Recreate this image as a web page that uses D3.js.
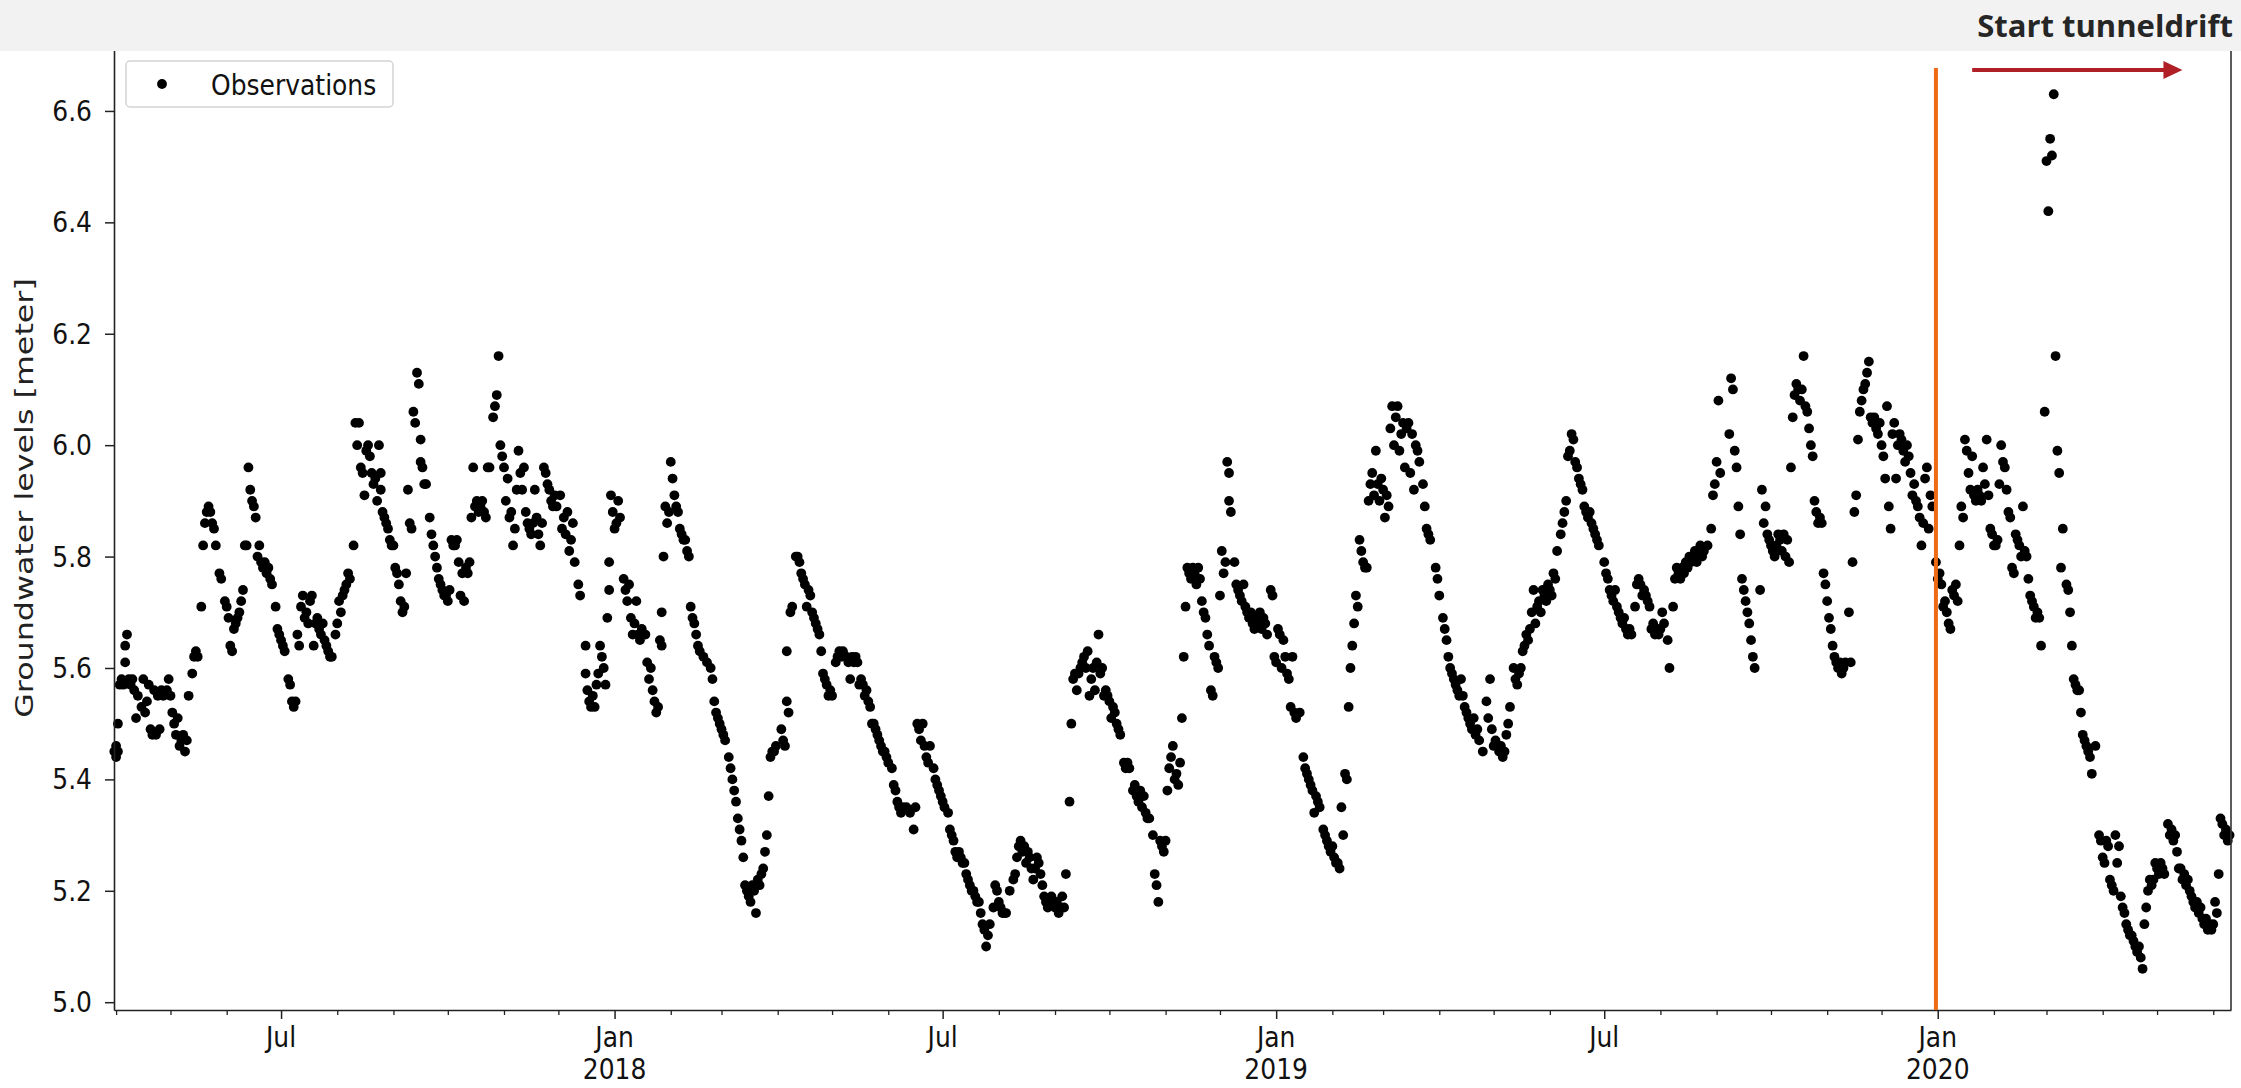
<!DOCTYPE html>
<html>
<head>
<meta charset="utf-8">
<script src="https://cdn.jsdelivr.net/npm/d3@7"></script>
<style>
  html, body { margin: 0; padding: 0; background: #fff; }
  svg { display: block; }
</style>
</head>
<body>
<div id="chart"></div>
<script>
// observations: [days after dayZero, groundwater level in meter]
const dayZero = new Date(2017, 3, 1);

const obs2017 = [
  [-1,5.45],[0,5.44],[0,5.46],[1,5.45],[1,5.50],[2,5.57],[3,5.58],[4,5.57],[5,5.61],[5,5.64],[6,5.66],[7,5.58],[8,5.57],[9,5.58],[10,5.56],
  [11,5.51],[12,5.55],[14,5.53],[15,5.58],[16,5.52],[17,5.54],[18,5.57],[19,5.49],[20,5.48],[21,5.56],[22,5.48],[23,5.55],[24,5.49],[25,5.56],
  [26,5.55],[28,5.56],[29,5.58],[30,5.55],[31,5.52],[32,5.50],[33,5.48],[34,5.51],[35,5.46],[36,5.47],[37,5.48],[38,5.45],[39,5.47],[40,5.55],
  [42,5.59],[43,5.62],[44,5.63],[45,5.62],[47,5.71],[48,5.82],[49,5.86],[50,5.88],[51,5.89],[52,5.88],[53,5.86],[54,5.85],[55,5.82],[57,5.77],
  [58,5.76],[60,5.72],[61,5.71],[62,5.69],[63,5.64],[64,5.63],[65,5.67],[66,5.68],[67,5.69],[68,5.70],[69,5.72],[70,5.74],[71,5.82],[72,5.82],
  [73,5.96],[74,5.92],[75,5.90],[76,5.89],[77,5.87],[78,5.80],[79,5.82],[80,5.79],[81,5.78],[82,5.79],[83,5.77],[84,5.78],[85,5.76],[86,5.75],
  [88,5.71],[89,5.67],[90,5.66],[91,5.65],[92,5.64],[93,5.63],[95,5.58],[96,5.57],[97,5.54],[98,5.53],[99,5.54],[100,5.66],[101,5.64],[102,5.71],
  [103,5.73],[104,5.69],[105,5.70],[106,5.68],[107,5.72],[108,5.73],[109,5.64],[110,5.68],[111,5.69],[112,5.67],[113,5.66],[114,5.68],[115,5.65],
  [116,5.64],[117,5.63],[118,5.62],[119,5.62],[121,5.66],[122,5.68],[123,5.72],[124,5.70],[125,5.73],[126,5.74],[127,5.75],[128,5.77],[129,5.76],
  [131,5.82],[132,6.04],[133,6.00],[134,6.04],[135,5.96],[136,5.95],[137,5.91],[138,5.99],[139,6.00],[140,5.98],[141,5.95],[142,5.93],[143,5.94],
  [144,5.90],[145,6.00],[146,5.95],[146,5.92],[147,5.88],[148,5.87],[149,5.86],[150,5.85],[151,5.83],[152,5.82],[153,5.82],[154,5.78],[155,5.77],
  [156,5.75],[157,5.72],[158,5.70],[159,5.71],[160,5.77],[161,5.92],[162,5.86],[163,5.85],[164,6.06],[165,6.04],[166,6.13],[167,6.11],[168,5.97],
  [168,6.01],[169,5.96],[170,5.93],[171,5.93],[173,5.87],[174,5.84],[175,5.82],[176,5.80],[177,5.78],[178,5.76],[179,5.75],[180,5.74],[181,5.73],
  [182,5.73],[183,5.72],[184,5.74],[185,5.83],[186,5.82],[187,5.82],[188,5.83],[189,5.79],[190,5.73],[191,5.77],[192,5.72],[193,5.78],[194,5.77],
  [195,5.79],[196,5.87],[197,5.96],[198,5.89],[199,5.90],[200,5.88],[201,5.89],[202,5.90],[203,5.88],[204,5.87],[205,5.96],[206,5.96],[208,6.05],
  [209,6.07],[210,6.09],[211,6.16],[212,6.00],[213,5.98],[214,5.96],[215,5.90],[216,5.94],[217,5.87],[218,5.88],[219,5.82],[220,5.85],[221,5.92],
  [222,5.99],[223,5.95],[224,5.92],[225,5.96],[226,5.88],[227,5.86],[228,5.85],[229,5.84],[230,5.86],[231,5.92],[232,5.87],[233,5.84],[234,5.82],
  [235,5.86],[236,5.96],[237,5.95],[238,5.93],[239,5.92],[240,5.90],[241,5.89],[242,5.91],[243,5.89],[245,5.91],[246,5.85],[247,5.87],[248,5.84],
  [249,5.88],[250,5.81],[251,5.83],[252,5.86],[253,5.79],[255,5.75],[256,5.73],[259,5.64],[259,5.59],[260,5.56],[261,5.54],[262,5.53],[263,5.55],
  [264,5.53],[265,5.57],[266,5.59],[267,5.64],[268,5.62],[269,5.60],[270,5.57],[271,5.69],[272,5.74],[272,5.79],[273,5.91],[274,5.88]
];

const obs2018 = [
  [275,5.85],[276,5.86],[277,5.90],[278,5.87],[280,5.76],[281,5.74],[282,5.72],[283,5.75],[284,5.69],[285,5.66],[286,5.68],[287,5.72],[288,5.66],
  [289,5.65],[290,5.67],[292,5.66],[293,5.61],[294,5.58],[295,5.60],[296,5.56],[297,5.54],[298,5.52],[299,5.53],[300,5.65],[301,5.64],[301,5.70],
  [302,5.80],[303,5.89],[304,5.86],[305,5.88],[306,5.97],[307,5.94],[308,5.91],[309,5.89],[310,5.88],[311,5.85],[312,5.84],[313,5.83],[314,5.83],
  [315,5.81],[316,5.80],[317,5.71],[318,5.69],[319,5.68],[320,5.66],[321,5.64],[322,5.63],[324,5.62],[326,5.61],[328,5.60],[329,5.58],[330,5.54],
  [331,5.52],[332,5.51],[333,5.50],[334,5.49],[335,5.48],[336,5.47],[338,5.44],[339,5.42],[340,5.40],[341,5.38],[342,5.36],[343,5.33],[344,5.31],
  [345,5.29],[346,5.26],[347,5.21],[348,5.20],[349,5.19],[350,5.18],[351,5.21],[352,5.20],[353,5.16],[354,5.22],[355,5.21],[356,5.23],[357,5.24],
  [358,5.27],[359,5.30],[360,5.37],[361,5.44],[362,5.45],[363,5.45],[364,5.46],[367,5.49],[368,5.47],[369,5.46],[370,5.54],[370,5.63],[371,5.52],
  [372,5.70],[373,5.71],[375,5.80],[376,5.80],[377,5.79],[378,5.77],[379,5.76],[380,5.75],[381,5.71],[382,5.74],[383,5.73],[384,5.70],[385,5.69],
  [386,5.68],[387,5.67],[388,5.66],[389,5.63],[390,5.59],[391,5.58],[392,5.57],[393,5.55],[394,5.56],[395,5.55],[397,5.61],[398,5.62],[399,5.63],
  [400,5.62],[401,5.63],[402,5.62],[403,5.62],[404,5.61],[405,5.58],[406,5.62],[407,5.61],[408,5.62],[409,5.61],[410,5.57],[411,5.58],[412,5.57],
  [413,5.55],[414,5.56],[415,5.54],[416,5.53],[417,5.50],[418,5.50],[419,5.49],[420,5.48],[421,5.47],[422,5.46],[423,5.45],[424,5.45],[425,5.44],
  [426,5.43],[428,5.42],[429,5.39],[430,5.38],[431,5.36],[432,5.35],[433,5.34],[434,5.35],[436,5.35],[438,5.34],[440,5.31],[441,5.35],[442,5.50],
  [443,5.49],[444,5.47],[445,5.50],[446,5.46],[447,5.44],[448,5.43],[449,5.46],[451,5.42],[452,5.40],[453,5.39],[454,5.38],[455,5.37],[456,5.36],
  [457,5.35],[459,5.34],[460,5.31],[461,5.30],[462,5.29],[463,5.27],[464,5.26],[465,5.27],[466,5.26],[467,5.25],[468,5.25],[469,5.23],[470,5.22],
  [471,5.21],[472,5.20],[473,5.20],[474,5.19],[475,5.18],[476,5.18],[477,5.16],[478,5.14],[479,5.13],[480,5.10],[481,5.12],[482,5.14],[484,5.17],
  [485,5.21],[486,5.20],[487,5.18],[488,5.17],[489,5.16],[490,5.16],[491,5.16],[493,5.20],[495,5.22],[496,5.23],[497,5.26],[498,5.28],[499,5.29],
  [500,5.27],[501,5.28],[502,5.25],[503,5.27],[504,5.26],[505,5.24],[506,5.22],[507,5.24],[508,5.26],[509,5.25],[510,5.23],[511,5.21],[512,5.19],
  [513,5.18],[514,5.17],[515,5.18],[516,5.19],[517,5.18],[518,5.17],[519,5.18],[520,5.16],[521,5.17],[522,5.19],[523,5.17],[524,5.23],[526,5.36],
  [527,5.50],[528,5.58],[529,5.59],[530,5.56],[531,5.59],[532,5.60],[533,5.61],[534,5.62],[535,5.60],[536,5.63],[537,5.55],[538,5.58],[539,5.60],
  [540,5.56],[541,5.61],[542,5.66],[543,5.59],[544,5.60],[545,5.55],[546,5.56],[547,5.55],[548,5.54],[549,5.51],[550,5.53],[551,5.52],[552,5.50],
  [553,5.49],[554,5.48],[556,5.43],[557,5.42],[558,5.43],[559,5.42],[561,5.38],[562,5.39],[563,5.37],[564,5.36],[565,5.38],[566,5.35],[567,5.37],
  [568,5.34],[569,5.33],[570,5.33],[572,5.30],[573,5.23],[574,5.21],[575,5.18],[576,5.29],[577,5.28],[578,5.27],[579,5.29],[580,5.38],[581,5.42],
  [582,5.44],[583,5.46],[584,5.40],[585,5.41],[586,5.39],[587,5.43],[588,5.51],[589,5.62],[590,5.71],[591,5.78],[592,5.77],[593,5.76],[594,5.78],
  [595,5.77],[596,5.75],[597,5.78],[598,5.76],[599,5.72],[600,5.70],[601,5.69],[602,5.66],[603,5.64],[604,5.56],[605,5.55],[606,5.62],[607,5.61],
  [608,5.60],[609,5.73],[610,5.81],[611,5.77],[612,5.79],[613,5.97],[614,5.95],[614,5.90],[615,5.88],[617,5.79],[618,5.75],[619,5.74],[620,5.73],
  [621,5.72],[622,5.75],[623,5.71],[624,5.70],[625,5.69],[626,5.70],[627,5.68],[628,5.67],[629,5.69],[630,5.68],[631,5.70],[632,5.67],[633,5.69],
  [634,5.68],[635,5.66],[637,5.74],[638,5.73],[639,5.62]
];

const obs2019 = [
  [640,5.61],[641,5.67],[642,5.66],[643,5.60],[644,5.65],[645,5.62],[646,5.59],[647,5.58],[648,5.53],[649,5.62],[650,5.52],[651,5.51],[653,5.52],
  [655,5.44],[656,5.42],[657,5.41],[658,5.40],[659,5.39],[660,5.38],[661,5.34],[662,5.37],[663,5.36],[664,5.35],[666,5.31],[667,5.30],[668,5.29],
  [669,5.28],[670,5.27],[671,5.28],[672,5.26],[673,5.25],[674,5.25],[675,5.24],[676,5.35],[677,5.30],[678,5.41],[679,5.40],[680,5.53],[681,5.60],
  [682,5.64],[683,5.68],[684,5.73],[685,5.71],[686,5.83],[687,5.81],[688,5.79],[689,5.78],[690,5.78],[691,5.90],[692,5.93],[693,5.95],[694,5.91],
  [695,5.99],[696,5.93],[697,5.90],[698,5.94],[699,5.92],[700,5.87],[701,5.91],[702,5.89],[703,6.03],[704,6.07],[705,6.00],[706,6.05],[707,6.07],
  [708,5.99],[709,6.02],[710,6.04],[711,5.96],[712,6.03],[713,6.04],[714,5.95],[715,6.02],[716,5.92],[717,6.00],[718,5.99],[719,5.97],[721,5.93],
  [722,5.89],[723,5.85],[724,5.84],[725,5.83],[728,5.78],[729,5.76],[730,5.73],[732,5.69],[733,5.67],[734,5.65],[735,5.62],[736,5.60],[737,5.59],
  [738,5.58],[739,5.57],[740,5.56],[741,5.55],[742,5.58],[743,5.55],[744,5.53],[745,5.52],[746,5.51],[747,5.50],[748,5.49],[749,5.51],[750,5.48],
  [751,5.49],[752,5.47],[754,5.45],[756,5.54],[757,5.51],[758,5.58],[759,5.49],[760,5.46],[761,5.47],[763,5.45],[764,5.46],[765,5.44],[766,5.45],
  [767,5.48],[768,5.50],[769,5.53],[771,5.60],[772,5.58],[773,5.57],[774,5.59],[775,5.60],[776,5.63],[777,5.64],[778,5.66],[779,5.65],[780,5.67],
  [781,5.70],[782,5.74],[783,5.68],[784,5.71],[785,5.72],[786,5.70],[787,5.74],[788,5.73],[789,5.72],[790,5.75],[791,5.74],[792,5.73],[793,5.77],
  [794,5.76],[795,5.81],[797,5.84],[798,5.86],[799,5.88],[800,5.90],[801,5.98],[802,5.99],[803,6.02],[804,6.01],[805,5.97],[806,5.96],[807,5.94],
  [808,5.93],[809,5.92],[810,5.89],[811,5.88],[812,5.87],[813,5.88],[814,5.86],[815,5.85],[816,5.84],[817,5.83],[818,5.82],[821,5.79],[822,5.77],
  [823,5.76],[824,5.74],[825,5.73],[826,5.72],[827,5.74],[828,5.71],[829,5.70],[830,5.69],[831,5.68],[832,5.69],[833,5.67],[834,5.66],[835,5.67],
  [836,5.66],[838,5.71],[839,5.75],[840,5.76],[841,5.75],[842,5.73],[843,5.74],[844,5.73],[845,5.72],[846,5.71],[847,5.67],[848,5.68],[849,5.66],
  [850,5.67],[851,5.66],[852,5.67],[853,5.70],[854,5.68],[856,5.65],[857,5.60],[859,5.71],[860,5.76],[861,5.78],[862,5.77],[863,5.76],[864,5.78],
  [865,5.77],[866,5.79],[867,5.78],[868,5.80],[869,5.79],[870,5.80],[871,5.81],[872,5.79],[873,5.80],[874,5.82],[875,5.80],[876,5.81],[878,5.82],
  [880,5.85],[881,5.91],[882,5.93],[883,5.97],[884,6.08],[885,5.95],[890,6.02],[891,6.12],[892,6.10],[893,5.99],[894,5.96],[895,5.89],[896,5.84],
  [897,5.76],[898,5.74],[899,5.72],[900,5.70],[901,5.68],[902,5.65],[903,5.62],[904,5.60],[907,5.74],[908,5.92],[909,5.86],[910,5.89],[911,5.84],
  [912,5.83],[913,5.82],[914,5.81],[915,5.80],[916,5.82],[917,5.84],[918,5.83],[919,5.81],[920,5.84],[921,5.80],[922,5.83],[923,5.79],[924,5.96],
  [925,6.05],[926,6.09],[927,6.11],[928,6.10],[929,6.08],[930,6.10],[931,6.16],[932,6.07],[933,6.06],[934,6.03],[935,6.00],[936,5.98],[937,5.90],
  [938,5.88],[939,5.86],[940,5.87],[941,5.86],[942,5.77],[943,5.75],[944,5.72],[945,5.69],[946,5.67],[947,5.64],[948,5.62],[949,5.61],[950,5.60],
  [951,5.61],[952,5.59],[953,5.60],[954,5.61],[956,5.70],[957,5.61],[958,5.79],[959,5.88],[960,5.91],[961,6.01],[962,6.06],[963,6.08],[964,6.10],
  [965,6.11],[966,6.13],[967,6.15],[968,6.05],[969,6.04],[970,6.05],[971,6.03],[972,6.02],[973,6.04],[974,6.00],[975,5.98],[976,5.94],[977,6.07],
  [978,5.89],[979,5.85],[980,6.02],[981,6.04],[982,5.94],[983,6.00],[984,6.02],[985,6.01],[986,5.99],[987,5.97],[988,6.00],[989,5.98],[990,5.95],
  [991,5.91],[992,5.93],[993,5.90],[994,5.89],[995,5.87],[996,5.82],[997,5.86],[998,5.94],[999,5.96],[1000,5.85],[1001,5.91],[1002,5.89],[1004,5.79]
];

const obs2020 = [
  [1005,5.76],[1006,5.77],[1007,5.75],[1008,5.71],[1009,5.72],[1010,5.70],[1011,5.68],[1012,5.67],[1013,5.74],[1014,5.73],[1015,5.75],[1016,5.72],
  [1017,5.82],[1018,5.89],[1019,5.87],[1020,6.01],[1021,5.99],[1022,5.95],[1023,5.92],[1024,5.98],[1025,5.91],[1026,5.90],[1027,5.92],[1028,5.91],
  [1029,5.90],[1030,5.96],[1031,5.93],[1032,6.01],[1033,5.91],[1034,5.85],[1035,5.84],[1036,5.82],[1037,5.82],[1038,5.83],[1039,5.93],[1040,6.00],
  [1041,5.97],[1042,5.96],[1043,5.92],[1044,5.88],[1045,5.87],[1046,5.78],[1047,5.77],[1048,5.84],[1049,5.83],[1050,5.82],[1051,5.80],[1052,5.89],
  [1053,5.81],[1054,5.80],[1055,5.76],[1056,5.73],[1057,5.72],[1058,5.71],[1059,5.69],[1060,5.70],[1061,5.69],[1062,5.64],[1064,6.06],[1065,6.51],
  [1066,6.42],[1067,6.55],[1068,6.52],[1069,6.63],[1070,6.16],[1071,5.99],[1072,5.95],[1073,5.78],[1074,5.85],[1076,5.75],[1077,5.74],[1078,5.70],
  [1079,5.64],[1080,5.58],[1081,5.57],[1082,5.56],[1083,5.56],[1084,5.52],[1085,5.48],[1086,5.47],[1087,5.46],[1088,5.45],[1089,5.44],[1090,5.41],
  [1092,5.46],[1094,5.30],[1095,5.29],[1096,5.26],[1097,5.25],[1098,5.29],[1099,5.28],[1100,5.22],[1101,5.21],[1102,5.20],[1103,5.30],[1104,5.25],
  [1105,5.28],[1106,5.19],[1107,5.17],[1108,5.16],[1109,5.14],[1110,5.13],[1111,5.12],[1112,5.12],[1113,5.11],[1114,5.10],[1115,5.09],[1116,5.10],
  [1117,5.08],[1118,5.06],[1119,5.14],[1120,5.17],[1121,5.20],[1122,5.22],[1123,5.21],[1124,5.22],[1125,5.25],[1126,5.24],[1127,5.23],[1128,5.25],
  [1129,5.24],[1130,5.23],[1132,5.32],[1133,5.30],[1134,5.31],[1135,5.29],[1136,5.30],[1137,5.27],[1138,5.24],[1139,5.24],[1140,5.22],[1141,5.23],
  [1142,5.21],[1143,5.22],[1144,5.20],[1145,5.19],[1146,5.18],[1147,5.17],[1148,5.18],[1149,5.16],[1150,5.17],[1151,5.15],[1152,5.14],[1153,5.15],
  [1154,5.13],[1155,5.14],[1156,5.13],[1157,5.14],[1158,5.18],[1159,5.16],[1160,5.23],[1161,5.33],[1162,5.32],[1163,5.30],[1164,5.31],[1165,5.29],
  [1166,5.30]
];

const yTickValues = [5.0, 5.2, 5.4, 5.6, 5.8, 6.0, 6.2, 6.4, 6.6];
const monthNames = ['Jan', 'Feb', 'Mar', 'Apr', 'May', 'Jun', 'Jul', 'Aug', 'Sep', 'Oct', 'Nov', 'Dec'];
const legendLabel = 'Observations';
const yLabel = 'Groundwater levels [meter]';
const bannerText = 'Start tunneldrift';
const tunnelStart = new Date(2019, 11, 31);
const arrowFrom = new Date(2020, 0, 20);
const arrowTo = new Date(2020, 4, 15);

const W = 2241, H = 1088;
const plot = { left: 114, right: 2231, top: 48, bottom: 1010 };
const stretch = 1.15; // tick text in the picture is a little taller than wide
const dotR = 4.9;

const observations = [...obs2017, ...obs2018, ...obs2019, ...obs2020]
  .map(([d, v]) => ({ date: d3.timeDay.offset(dayZero, d), level: v }));

const svg = d3.select('#chart').append('svg')
  .attr('width', W)
  .attr('height', H)
  .style('background', '#fff');

const x = d3.scaleTime()
  .domain([new Date(2017, 2, 30, 20), new Date(2020, 5, 10, 19)])
  .range([plot.left, plot.right]);

const y = d3.scaleLinear()
  .domain([4.986, 6.713])
  .range([plot.bottom, plot.top]);

const axisFont = 'DejaVu Sans, sans-serif';

function label(g, tx, ty, str, anchor) {
  return g.append('text')
    .attr('transform', `translate(${tx},${ty}) scale(1,${stretch})`)
    .attr('text-anchor', anchor)
    .style('font-family', axisFont)
    .style('font-size', '25px')
    .style('fill', '#111')
    .text(str);
}

// points
svg.append('g')
  .selectAll('circle')
  .data(observations)
  .join('circle')
  .attr('cx', d => x(d.date))
  .attr('cy', d => y(d.level))
  .attr('r', dotR)
  .attr('fill', '#000');

// x axis: month minor ticks, Jan/Jul major ticks
const months = d3.timeMonth.range(x.domain()[0], x.domain()[1]);
const majors = months.filter(d => d.getMonth() % 6 === 0);
const minors = months.filter(d => d.getMonth() % 6 !== 0);

svg.append('g')
  .attr('transform', `translate(0,${plot.bottom})`)
  .call(d3.axisBottom(x).tickValues(minors).tickSize(5).tickSizeOuter(0).tickFormat(''))
  .call(g => g.select('.domain').attr('stroke', '#222').attr('stroke-width', 1.6))
  .call(g => g.selectAll('.tick line').attr('stroke', '#222').attr('stroke-width', 1.3));

svg.append('g')
  .attr('transform', `translate(0,${plot.bottom})`)
  .call(d3.axisBottom(x).tickValues(majors).tickSize(9).tickSizeOuter(0).tickFormat(''))
  .call(g => g.select('.domain').remove())
  .call(g => g.selectAll('.tick line').attr('stroke', '#222').attr('stroke-width', 1.5));

const xLabels = svg.append('g');
majors.forEach(d => {
  label(xLabels, x(d), plot.bottom + 37, monthNames[d.getMonth()], 'middle');
  if (d.getMonth() === 0) label(xLabels, x(d), plot.bottom + 69, d.getFullYear(), 'middle');
});

// y axis
svg.append('g')
  .attr('transform', `translate(${plot.left},0)`)
  .call(d3.axisLeft(y).tickValues(yTickValues).tickSize(9).tickSizeOuter(0).tickFormat(''))
  .call(g => g.select('.domain').attr('stroke', '#222').attr('stroke-width', 1.6))
  .call(g => g.selectAll('.tick line').attr('stroke', '#222').attr('stroke-width', 1.5));

const yLabels = svg.append('g');
yTickValues.forEach(v => label(yLabels, plot.left - 22, y(v) + 10, d3.format('.1f')(v), 'end'));

svg.append('text')
  .attr('transform', `translate(33,498) rotate(-90) scale(1.27,1)`)
  .attr('text-anchor', 'middle')
  .style('font-family', axisFont)
  .style('font-size', '25px')
  .style('fill', '#222')
  .text(yLabel);

// right spine
svg.append('line')
  .attr('x1', plot.right).attr('x2', plot.right)
  .attr('y1', plot.top).attr('y2', plot.bottom)
  .attr('stroke', '#333').attr('stroke-width', 1.6);

// legend
const legend = svg.append('g');
legend.append('rect')
  .attr('x', 126).attr('y', 61).attr('width', 267).attr('height', 46).attr('rx', 4)
  .attr('fill', '#fff').attr('stroke', '#d4d4d4').attr('stroke-width', 1.5);
legend.append('circle').attr('cx', 162).attr('cy', 84).attr('r', dotR).attr('fill', '#000');
label(legend, 211, 95, legendLabel, 'start');

// tunnel start marker
svg.append('line')
  .attr('x1', x(tunnelStart)).attr('x2', x(tunnelStart))
  .attr('y1', 68).attr('y2', plot.bottom)
  .attr('stroke', '#ef6a15').attr('stroke-width', 4);

const arrowY = 70;
svg.append('line')
  .attr('x1', x(arrowFrom)).attr('x2', x(arrowTo) - 16)
  .attr('y1', arrowY).attr('y2', arrowY)
  .attr('stroke', '#b01f26').attr('stroke-width', 4);
svg.append('path')
  .attr('d', d3.line()([[x(arrowTo) - 19, arrowY - 9], [x(arrowTo), arrowY], [x(arrowTo) - 19, arrowY + 9]]) + 'Z')
  .attr('fill', '#b01f26');

// grey banner on top
svg.append('rect')
  .attr('x', 0).attr('y', 0).attr('width', W).attr('height', 51)
  .attr('fill', '#f2f2f2');

svg.append('text')
  .attr('x', 2233).attr('y', 37)
  .attr('text-anchor', 'end')
  .style('font-family', 'Open Sans, sans-serif')
  .style('font-weight', 700)
  .style('font-size', '31px')
  .style('fill', '#262626')
  .text(bannerText);
</script>
</body>
</html>
